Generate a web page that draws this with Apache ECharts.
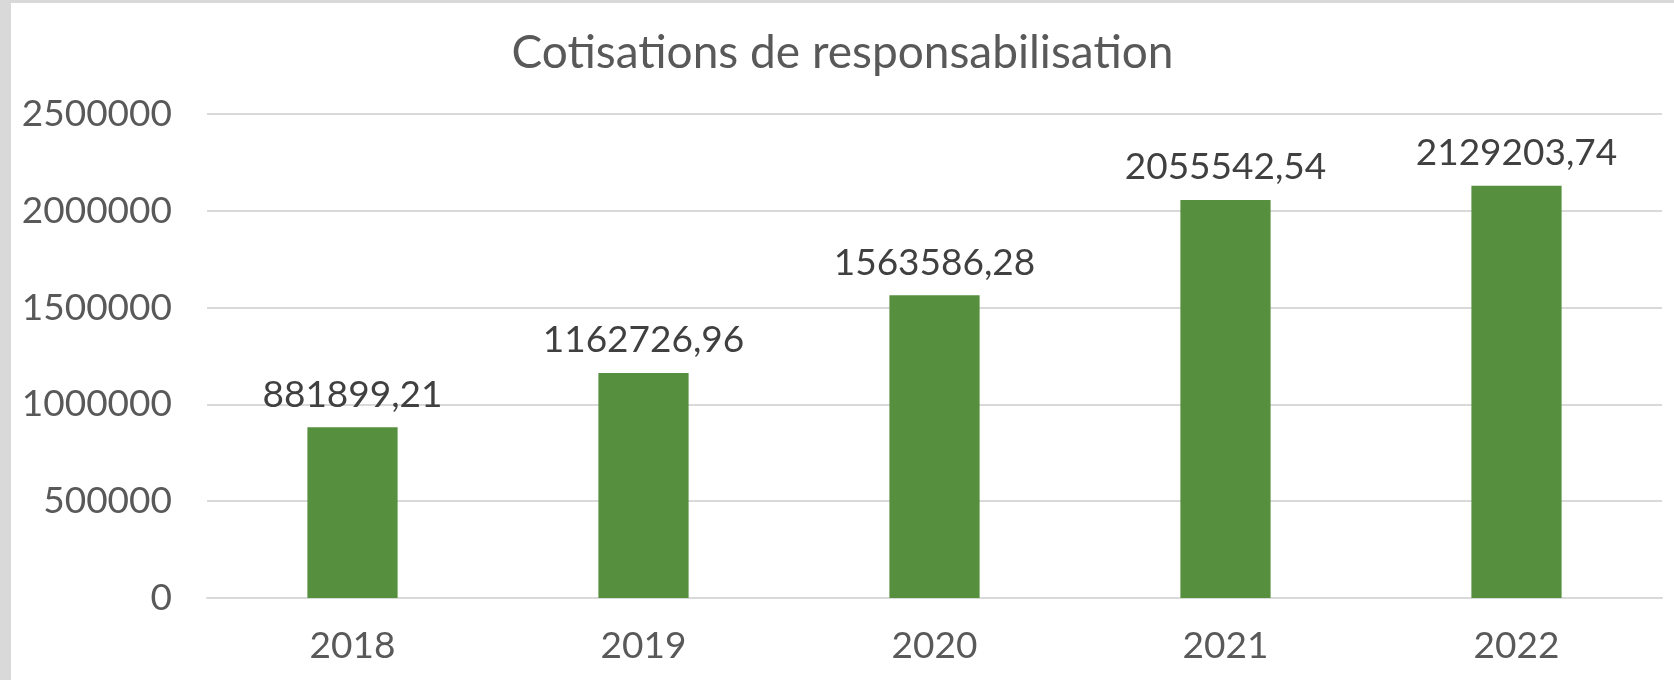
<!DOCTYPE html>
<html>
<head>
<meta charset="utf-8">
<script src="https://cdn.jsdelivr.net/npm/echarts@6/dist/echarts.min.js"></script>
<style>
  html,body{margin:0;padding:0;background:#d9d9d9;}
  #chart{position:absolute;left:11px;top:3px;width:1663px;height:677px;background:#fff;}
</style>
</head>
<body>
<div id="chart"></div>
<script>
var years = ['2018', '2019', '2020', '2021', '2022'];
var cotisations = [881899.21, 1162726.96, 1563586.28, 2055542.54, 2129203.74];
var yTicks = [0, 500000, 1000000, 1500000, 2000000, 2500000];

var myChart = echarts.init(document.getElementById('chart'));
var option = {
    animation: false,
    textStyle: { fontFamily: 'Lato' },
    title: {
        text: 'Cotisations de responsabilisation',
        left: 'center',
        top: 22,
        padding: [5, 5, 5, 22],
        textStyle: {
            fontFamily: 'Lato',
            fontSize: 46,
            fontWeight: 'normal',
            color: '#595959'
        }
    },
    grid: {
        left: 196,
        right: 12,
        top: 111,
        bottom: 82
    },
    xAxis: {
        type: 'category',
        data: years,
        axisTick: { show: false },
        axisLine: { lineStyle: { color: '#d9d9d9', width: 2 } },
        axisLabel: {
            margin: 30,
            fontSize: 37,
            color: '#595959'
        }
    },
    yAxis: {
        type: 'value',
        min: yTicks[0],
        max: yTicks[yTicks.length - 1],
        interval: yTicks[1] - yTicks[0],
        axisLine: { show: false },
        axisTick: { show: false },
        splitLine: { lineStyle: { color: '#d9d9d9', width: 2 } },
        axisLabel: {
            margin: 35,
            fontSize: 37,
            color: '#595959',
            formatter: function (v) {
                return String(v);
            }
        }
    },
    series: [
        {
            type: 'bar',
            data: cotisations,
            barWidth: '31%',
            itemStyle: { color: '#568f3e' },
            label: {
                show: true,
                position: 'top',
                distance: 14,
                fontSize: 37,
                color: '#404040',
                formatter: function (p) {
                    return p.value.toFixed(2).replace('.', ',');
                }
            }
        }
    ]
};
myChart.setOption(option);
</script>
</body>
</html>
